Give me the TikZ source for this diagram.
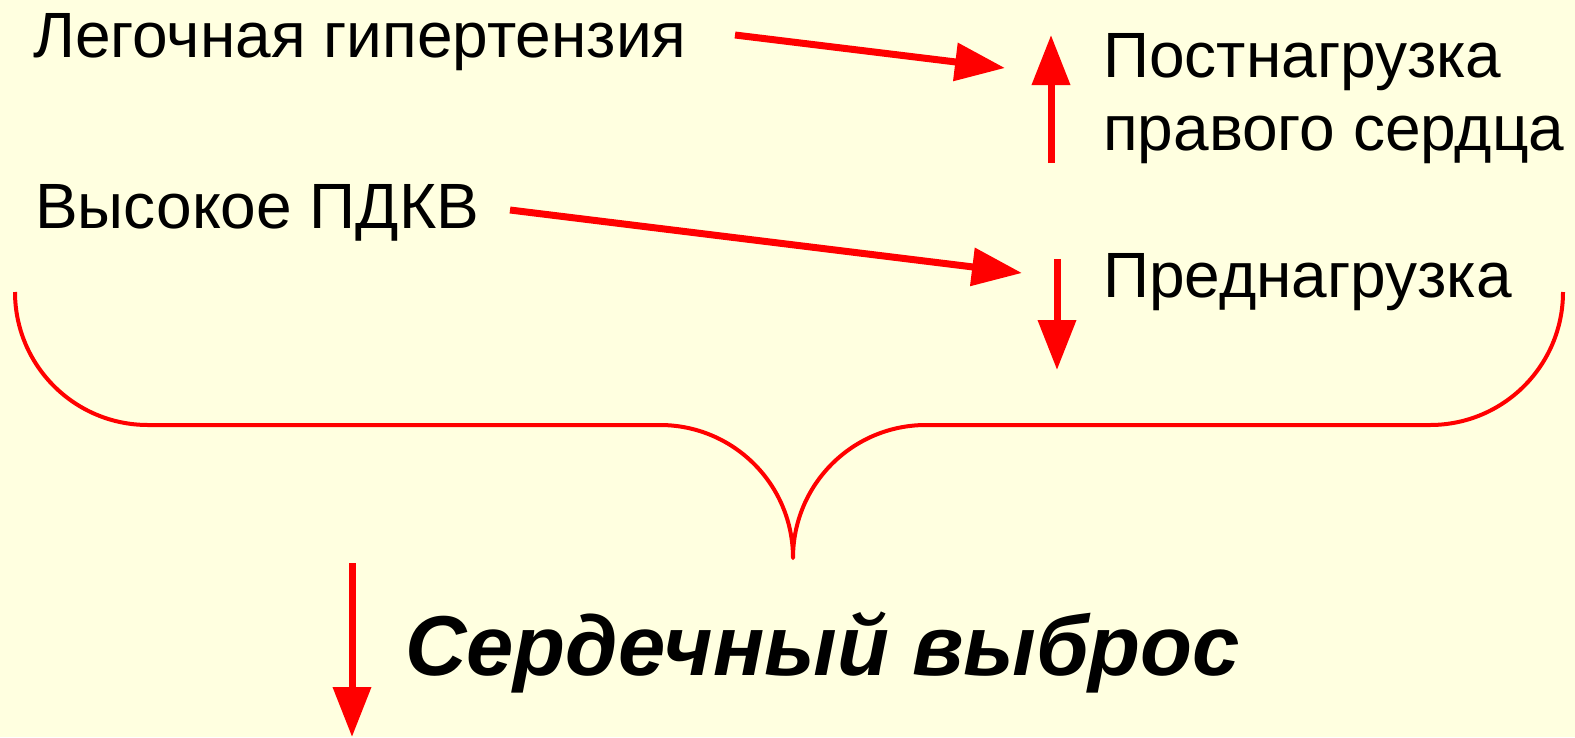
\documentclass[tikz,border=0pt]{standalone}
\usepackage{fontspec}
\setmainfont{Liberation Sans}
\usetikzlibrary{arrows.meta}
\definecolor{paper}{HTML}{FFFFE0}
\definecolor{arrred}{HTML}{FF0000}
\tikzset{
  label/.style={anchor=base west, inner sep=0pt, font=\fontsize{64}{76}\selectfont},
  bigarrow/.style={draw=arrred, line width=7pt,
    -{Triangle[length=50pt, width=37pt]}},
  brace/.style={draw=arrred, line width=4pt, line join=round}
}
\begin{document}
\begin{tikzpicture}[x=1pt, y=-1pt]
  \fill[paper] (0,0) rectangle (1575,737);
  \useasboundingbox (0,0) rectangle (1575,737);

  % texts
  \node[label] (lung) at (33,57) {Легочная гипертензия};
  \node[label] (pdkv) at (35,228) {Высокое ПДКВ};
  \node[label] (post) at (1103,77) {Постнагрузка};
  \node[label] (rv)   at (1103,150) {правого сердца};
  \node[label] (pre)  at (1103,297) {Преднагрузка};
  \node[anchor=base west, inner sep=0pt,
        font=\fontsize{85}{100}\selectfont\bfseries\itshape]
        (co) at (405,675) {Сердечный выброс};

  % arrow end points
  \coordinate (a1s) at (735,35);
  \coordinate (a1e) at (1005,68);
  \coordinate (a2s) at (510,210);
  \coordinate (a2e) at (1022,273);
  \coordinate (ups) at (1051,163);
  \coordinate (upe) at (1051,35);
  \coordinate (dns) at (1057,259);
  \coordinate (dne) at (1057,370);
  \coordinate (cos) at (352,563);
  \coordinate (coe) at (352,737);

  % arrows
  \draw[bigarrow] (a1s) -- (a1e);
  \draw[bigarrow] (a2s) -- (a2e);
  \draw[bigarrow] (ups) -- (upe);
  \draw[bigarrow] (dns) -- (dne);
  \draw[bigarrow] (cos) -- (coe);

  % curly brace
  \draw[brace] (15,292) .. controls (15,365.5) and (74.5,425) .. (148,425)
    -- (660,425) .. controls (733.5,425) and (793,484.5) .. (793,558)
    .. controls (793,484.5) and (852.5,425) .. (926,425)
    -- (1430,425) .. controls (1503.5,425) and (1563,365.5) .. (1563,292);
\end{tikzpicture}
\end{document}
